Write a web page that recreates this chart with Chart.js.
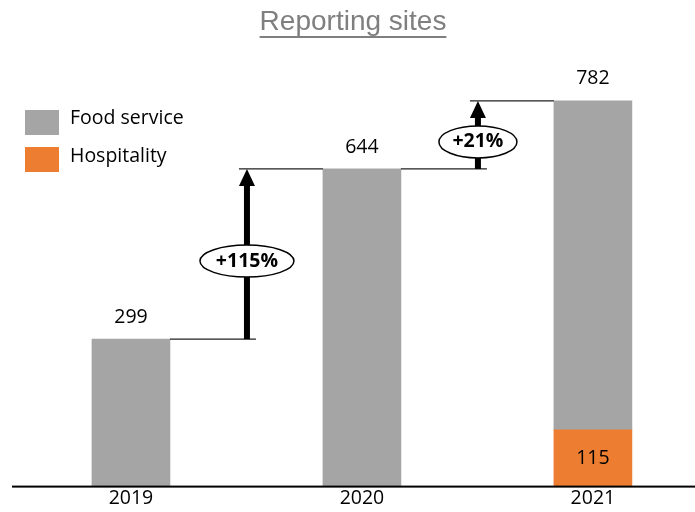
<!DOCTYPE html>
<html>
<head>
<meta charset="utf-8">
<script src="https://cdn.jsdelivr.net/npm/chart.js@4.4.1/dist/chart.umd.min.js"></script>
<style>
  html, body { margin: 0; padding: 0; background: #fff; overflow: hidden; }
  #wrap { width: 695px; height: 512px; position: relative; }
</style>
</head>
<body>
<div id="wrap"><canvas id="chartSites" width="695" height="512"></canvas></div>
<script>
  // Datos
  const years = ['2019', '2020', '2021'];
  const foodService = [299, 644, 667];
  const hospitality = [0, 0, 115];
  const totals = [299, 644, 782];
  const growthLabels = ['+115%', '+21%'];

  const FONT = '"Open Sans", Lato, sans-serif';

  // Dibujar título, leyenda, flechas y etiquetas
  const overlayPlugin = {
    id: 'overlay',
    afterDraw(chart) {
      const ctx = chart.ctx;
      const x = chart.scales.x;
      const y = chart.scales.y;
      const barHalf = 39;

      ctx.save();

      // Título subrayado
      ctx.font = '28px "Liberation Sans", Arial, sans-serif';
      ctx.fillStyle = '#7f7f7f';
      ctx.textAlign = 'center';
      ctx.textBaseline = 'middle';
      ctx.fillText('Reporting sites', 353, 22);
      const tw = ctx.measureText('Reporting sites').width;
      ctx.fillRect(353 - tw / 2, 36, tw, 2);

      // Leyenda
      ctx.textAlign = 'left';
      ctx.font = '19.5px ' + FONT;
      ctx.fillStyle = '#a5a5a5';
      ctx.fillRect(25, 110, 34, 25);
      ctx.fillStyle = '#ed7d31';
      ctx.fillRect(25, 147, 34, 25);
      ctx.fillStyle = '#000';
      ctx.fillText('Food service', 70, 118);
      ctx.fillText('Hospitality', 70, 156);

      // Eje horizontal
      ctx.fillStyle = '#000';
      ctx.fillRect(12, y.getPixelForValue(0) - 1, 683, 2);

      // Etiquetas de totales
      ctx.textAlign = 'center';
      totals.forEach((v, i) => {
        ctx.fillText(String(v), x.getPixelForValue(i), y.getPixelForValue(v) - 22);
      });
      ctx.fillText(String(hospitality[2]), x.getPixelForValue(2), y.getPixelForValue(hospitality[2] / 2));

      // Flechas de crecimiento
      for (let i = 0; i < 2; i++) {
        const xa = x.getPixelForValue(i);
        const xb = x.getPixelForValue(i + 1);
        const y0 = y.getPixelForValue(totals[i]);
        const y1 = y.getPixelForValue(totals[i + 1]);
        const ax = xa + barHalf + 77;

        ctx.strokeStyle = '#222';
        ctx.lineWidth = 1.2;
        ctx.beginPath();
        ctx.moveTo(xa + barHalf, y0);
        ctx.lineTo(ax + 9, y0);
        ctx.moveTo(ax - 8, y1);
        ctx.lineTo(xb - barHalf, y1);
        ctx.stroke();

        // cuerpo
        ctx.fillStyle = '#000';
        ctx.fillRect(ax - 3, y1 + 14, 6, y0 - y1 - 14);
        // punta
        ctx.beginPath();
        ctx.moveTo(ax, y1);
        ctx.lineTo(ax - 8, y1 + 17);
        ctx.lineTo(ax + 8, y1 + 17);
        ctx.closePath();
        ctx.fill();

        // elipse
        const cy = (y0 + y1) / 2 + 7;
        const rx = i === 0 ? 47 : 39;
        ctx.beginPath();
        ctx.ellipse(ax, cy, rx, 16, 0, 0, Math.PI * 2);
        ctx.fillStyle = '#fff';
        ctx.fill();
        ctx.lineWidth = 1.5;
        ctx.strokeStyle = '#000';
        ctx.stroke();
        ctx.fillStyle = '#000';
        ctx.font = 'bold 19.5px ' + FONT;
        ctx.fillText(growthLabels[i], ax, cy);
      }

      ctx.restore();
    }
  };

  const config = {
    type: 'bar',
    data: {
      datasets: [
        {
          label: 'Hospitality',
          data: years.map((yr, i) => ({ x: i, y: hospitality[i] })),
          backgroundColor: '#ed7d31',
          barThickness: 78
        },
        {
          label: 'Food service',
          data: years.map((yr, i) => ({ x: i, y: foodService[i] })),
          backgroundColor: '#a5a5a5',
          barThickness: 78
        }
      ]
    },
    plugins: [overlayPlugin],
    options: {
      responsive: false,
      animation: false,
      layout: { padding: { left: 12, right: 0, top: 92, bottom: 2 } },
      plugins: {
        legend: { display: false },
        title: { display: false },
        tooltip: { enabled: false }
      },
      scales: {
        x: {
          type: 'linear',
          stacked: true,
          offset: false,
          bounds: 'data',
          min: -0.515,
          max: 2.442,
          grid: { display: false, drawTicks: false },
          border: { display: false },
          afterBuildTicks: axis => { axis.ticks = years.map((yr, i) => ({ value: i })); },
          ticks: {
            color: '#000',
            padding: 0,
            font: { family: FONT, size: 19.5 },
            callback: v => years[v] || ''
          }
        },
        y: {
          stacked: true,
          display: false,
          min: 0,
          max: 800
        }
      }
    }
  };

  new Chart(document.getElementById('chartSites').getContext('2d'), config);
</script>
</body>
</html>
